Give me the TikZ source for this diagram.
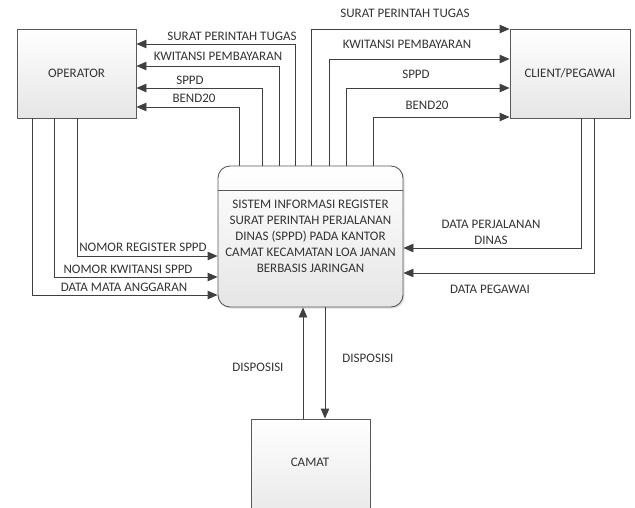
\documentclass[tikz,border=0pt]{standalone}
\usepackage{fontspec}
\setmainfont{Carlito}
\usetikzlibrary{arrows.meta,shadows}

\begin{document}
\begin{tikzpicture}[x=1pt,y=-1pt,line width=0.9pt,line cap=butt,line join=miter,
                    font=\fontsize{13pt}{16pt}\selectfont,
                    entity/.style={draw=black!65,top color=white,bottom color=black!10,
                                   text=black!80,inner sep=0pt},
                    flow/.style={draw=black!75,-{Triangle[length=10pt,width=8.5pt]}},
                    lbl/.style={text=black!80,inner sep=0pt}]
  \path[use as bounding box] (0,0) rectangle (635,507);   % bbox＝源画布 635×507 px
  % ---- 实体框（坐标＝源 px，y 向下） ----
  \node[entity,minimum width=119pt,minimum height=89pt] (op) at (76.5,73.5) {OPERATOR};        % px x[17,136] y[29,118]
  \node[entity,minimum width=120pt,minimum height=89pt] (cl) at (570,73.5) {CLIENT/PEGAWAI};  % px x[510,630] y[29,118]
  \node[entity,minimum width=119pt,minimum height=110pt] (cm) at (310.5,474) {};              % px x[251,370] y[419,...] 下端出画
  \node[lbl] (cmtxt) at (310,462) {CAMAT};
  % ---- 过程框（圆角，顶部分隔线 y=190，带淡阴影） ----
  \node[entity,rounded corners=12pt,minimum width=185pt,minimum height=141pt,align=center,
        drop shadow={opacity=0.25,shadow xshift=1.5pt,shadow yshift=-1.5pt}] (sys) at (310.5,236.5)
       {SISTEM INFORMASI REGISTER\\SURAT PERINTAH PERJALANAN\\DINAS (SPPD) PADA KANTOR\\
        CAMAT KECAMATAN LOA JANAN\\BERBASIS JARINGAN};                                          % px x[218,403] y[166,307]
  \draw[draw=black!65] (sys.west |- 0,190) -- (sys.east |- 0,190);
  % ---- 过程 → OPERATOR（上左 4 条） ----
  \draw[flow] (295,0 |- sys.north) |- (op.east |- 0,44);    % px x=295 y=44
  \draw[flow] (279,0 |- sys.north) |- (op.east |- 0,66);    % px x=279 y=66
  \draw[flow] (262,0 |- sys.north) |- (op.east |- 0,88);    % px x=262 y=88
  \draw[flow] (239,0 |- sys.north) |- (op.east |- 0,107);   % px x=239 y=107
  \node[lbl] (a1) at (232,36) {SURAT PERINTAH TUGAS};
  \node[lbl] (a2) at (218,56) {KWITANSI PEMBAYARAN};
  \node[lbl] (a3) at (190,80) {SPPD};
  \node[lbl] (a4) at (194,98) {BEND20};
  % ---- 过程 → CLIENT（上右 4 条） ----
  \draw[flow] (311,0 |- sys.north) |- (cl.west |- 0,29);    % px x=311 y=29
  \draw[flow] (329,0 |- sys.north) |- (cl.west |- 0,59);    % px x=329 y=59
  \draw[flow] (346,0 |- sys.north) |- (cl.west |- 0,88);    % px x=346 y=88
  \draw[flow] (373,0 |- sys.north) |- (cl.west |- 0,117);   % px x=373 y=117
  \node[lbl] (b1) at (405,13) {SURAT PERINTAH TUGAS};
  \node[lbl] (b2) at (407,44) {KWITANSI PEMBAYARAN};
  \node[lbl] (b3) at (416,74) {SPPD};
  \node[lbl] (b4) at (427,105) {BEND20};
  % ---- OPERATOR → 过程（下左 3 条） ----
  \draw[flow] (77,0 |- op.south) |- (sys.west |- 0,256);    % px x=77 y=256
  \draw[flow] (54,0 |- op.south) |- (sys.west |- 0,277);    % px x=54 y=277
  \draw[flow] (32,0 |- op.south) |- (sys.west |- 0,295);    % px x=32 y=295
  \node[lbl] (c1) at (143,247) {NOMOR REGISTER SPPD};
  \node[lbl] (c2) at (128,269) {NOMOR KWITANSI SPPD};
  \node[lbl] (c3) at (124,287) {DATA MATA ANGGARAN};
  % ---- CLIENT → 过程（右 2 条） ----
  \draw[flow] (581,0 |- cl.south) |- (sys.east |- 0,248);   % px x=581 y=248
  \draw[flow] (594,0 |- cl.south) |- (sys.east |- 0,273);   % px x=594 y=273
  \node[lbl,align=center] (d1) at (491,232) {DATA PERJALANAN\\DINAS};
  \node[lbl] (d2) at (490,289) {DATA PEGAWAI};
  % ---- CAMAT ↔ 过程 ----
  \draw[flow] (303,0 |- cm.north) -- (303,0 |- sys.south);  % px x=303 上行
  \draw[flow] (325,0 |- sys.south) -- (325,0 |- cm.north);  % px x=325 下行
  \node[lbl] (e1) at (258,367) {DISPOSISI};
  \node[lbl] (e2) at (368,358) {DISPOSISI};
\end{tikzpicture}
\end{document}
